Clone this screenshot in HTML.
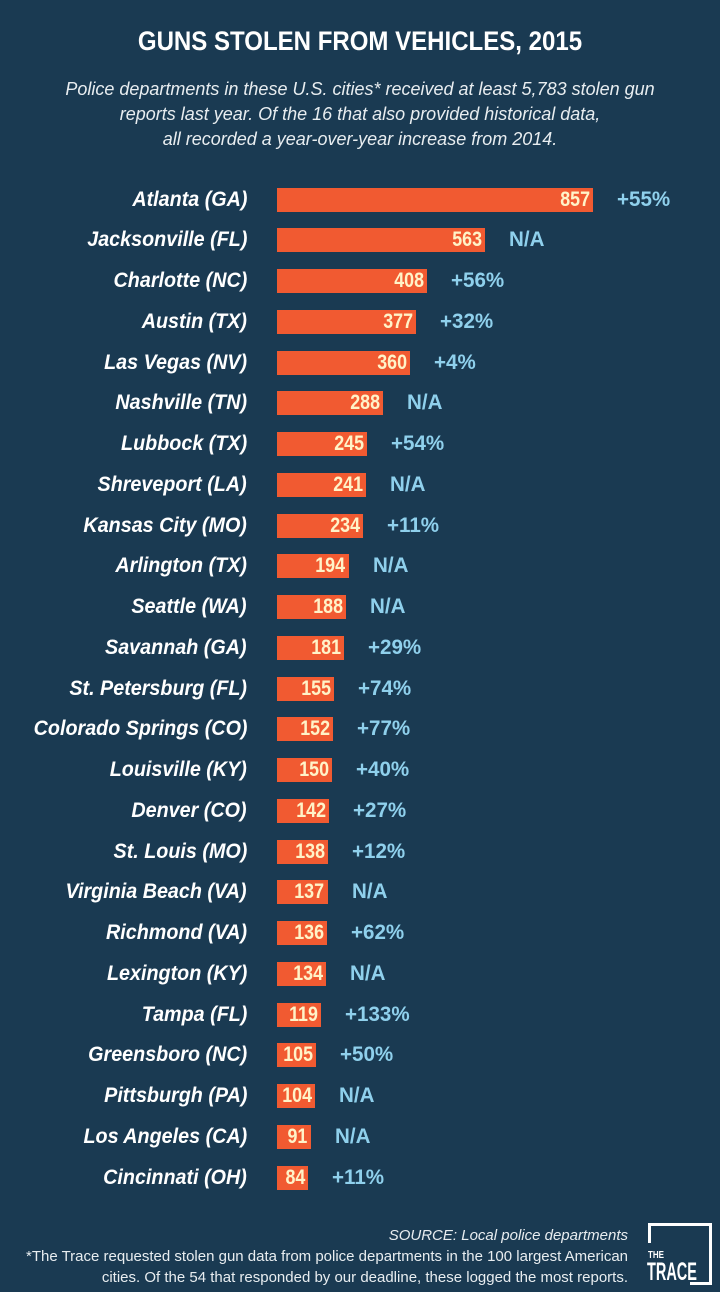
<!DOCTYPE html>
<html><head><style>
body{margin:0;width:720px;height:1292px;background:#1a3a52;font-family:"Liberation Sans",sans-serif;position:relative;overflow:hidden;color:#fff}
.t{position:absolute;left:0;width:720px;text-align:center;top:26px;font-size:27px;font-weight:bold;transform:scaleX(0.89)}
.s{position:absolute;left:0;width:720px;text-align:center;top:77px;font-size:18px;font-style:italic;line-height:25px;color:#e8edf0}
.r{position:absolute;left:0;width:720px;height:24px}
.l{position:absolute;right:473px;top:0;font-size:21px;font-weight:bold;font-style:italic;line-height:24px;white-space:nowrap;transform:scaleX(0.94);transform-origin:right center}
.b{position:absolute;left:277px;top:0;height:24px;background:#f15a31}
.v{position:absolute;right:3px;top:0;font-size:21px;font-weight:bold;line-height:24px;color:#fff3c8;transform:scaleX(0.85);transform-origin:right center}
.p{position:absolute;top:0;font-size:21px;font-weight:bold;line-height:24px;color:#8fd0ec;transform:scaleX(0.98);transform-origin:left center}
.f{position:absolute;right:92px;text-align:right;font-size:15px;line-height:21px;color:#e8edf0}
</style></head><body>
<div class="t">GUNS STOLEN FROM VEHICLES, 2015</div>
<div class="s">Police departments in these U.S. cities* received at least 5,783 stolen gun<br>reports last year. Of the 16 that also provided historical data,<br>all recorded a year-over-year increase from 2014.</div>
<div id="c"></div>
<div class="f" style="top:1225px;font-style:italic">SOURCE: Local police departments</div>
<div class="f" style="top:1246px">*The Trace requested stolen gun data from police departments in the 100 largest American<br>cities. Of the 54 that responded by our deadline, these logged the most reports.</div>
<div style="position:absolute;left:648px;top:1223px;width:64px;height:3px;background:#fff"></div>
<div style="position:absolute;left:648px;top:1223px;width:3px;height:20px;background:#fff"></div>
<div style="position:absolute;left:709px;top:1223px;width:3px;height:62px;background:#fff"></div>
<div style="position:absolute;left:690px;top:1282px;width:22px;height:3px;background:#fff"></div>
<div style="position:absolute;left:648px;top:1251px;font-size:10px;font-weight:bold;line-height:10px;transform:scaleX(0.8);transform-origin:left">THE</div>
<div style="position:absolute;left:647px;top:1260px;font-size:25px;font-weight:bold;line-height:25px;transform:scaleX(0.58);transform-origin:left">TRACE</div>
<script>
var d=[["Atlanta (GA)",857,"+55%"],["Jacksonville (FL)",563,"N/A"],["Charlotte (NC)",408,"+56%"],["Austin (TX)",377,"+32%"],["Las Vegas (NV)",360,"+4%"],["Nashville (TN)",288,"N/A"],["Lubbock (TX)",245,"+54%"],["Shreveport (LA)",241,"N/A"],["Kansas City (MO)",234,"+11%"],["Arlington (TX)",194,"N/A"],["Seattle (WA)",188,"N/A"],["Savannah (GA)",181,"+29%"],["St. Petersburg (FL)",155,"+74%"],["Colorado Springs (CO)",152,"+77%"],["Louisville (KY)",150,"+40%"],["Denver (CO)",142,"+27%"],["St. Louis (MO)",138,"+12%"],["Virginia Beach (VA)",137,"N/A"],["Richmond (VA)",136,"+62%"],["Lexington (KY)",134,"N/A"],["Tampa (FL)",119,"+133%"],["Greensboro (NC)",105,"+50%"],["Pittsburgh (PA)",104,"N/A"],["Los Angeles (CA)",91,"N/A"],["Cincinnati (OH)",84,"+11%"]];
var h="";d.forEach(function(r,i){var y=187.5+i*40.75,w=r[1]*316/857;
h+='<div class="r" style="top:'+y+'px"><div class="l">'+r[0]+'</div><div class="b" style="width:'+w+'px"><div class="v">'+r[1]+'</div></div><div class="p" style="left:'+(277+w+24)+'px">'+r[2]+'</div></div>';});
document.getElementById("c").innerHTML=h;
</script>
</body></html>
